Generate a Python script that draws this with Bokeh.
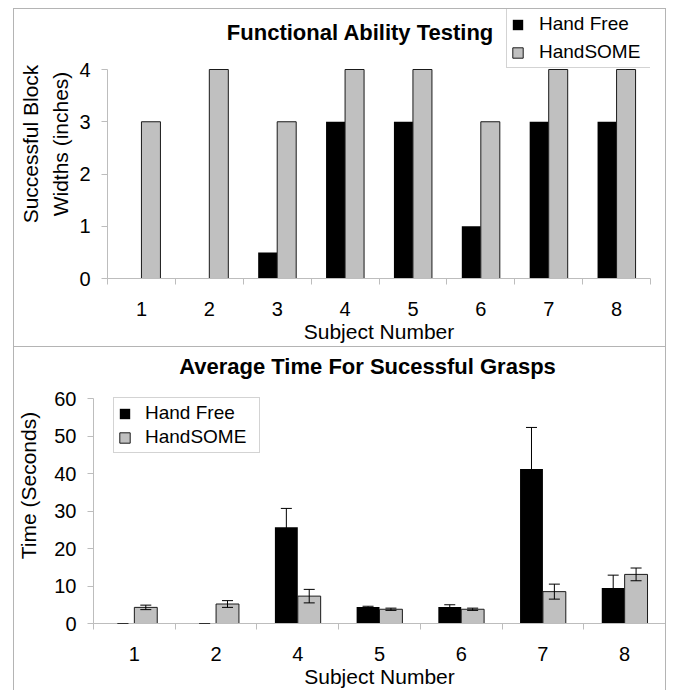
from bokeh.plotting import figure
from bokeh.models import (ColumnDataSource, FactorRange, Range1d, LinearAxis, CategoricalAxis,
                          FixedTicker, Legend, LegendItem, Whisker, TeeHead, Label)
from bokeh.transform import dodge
from bokeh.embed import file_html
from bokeh.resources import INLINE

# ---------------- data ----------------
top_subjects = ["1", "2", "3", "4", "5", "6", "7", "8"]
top_hand_free = [0, 0, 0.5, 3, 3, 1, 3, 3]
top_handsome = [3, 4, 3, 4, 4, 3, 4, 4]
top_yticks = [0, 1, 2, 3, 4]

bot_subjects = ["1", "2", "4", "5", "6", "7", "8"]
bot_hand_free = [0, 0, 25.7, 4.4, 4.4, 41.2, 9.5]
bot_hand_free_err = [0, 0, 5.0, 0.2, 0.6, 11.1, 3.4]
bot_handsome = [4.3, 5.2, 7.3, 3.8, 3.8, 8.5, 13.1]
bot_handsome_err = [0.6, 0.9, 1.8, 0.3, 0.3, 2.0, 1.7]
bot_yticks = [0, 10, 20, 30, 40, 50, 60]

FONT = "Liberation Sans"
AXIS_GRAY = "#bdbdbd"
BORDER_GRAY = "#b4b4b4"
BAR_GRAY = "#c0c0c0"
OUTLINE = "#1a1a1a"


def style_common(p):
    p.outline_line_color = None
    p.xgrid.grid_line_color = None
    p.ygrid.grid_line_color = None
    p.background_fill_color = "white"
    p.border_fill_color = "white"


def add_x_axes(p, n, label_size, label_standoff, axis_label_size, axis_label_standoff):
    # boundary ticks between categories (synthetic categorical coordinates 0..n)
    tick_axis = LinearAxis(ticker=FixedTicker(ticks=list(range(n + 1))),
                           major_tick_out=6, major_tick_in=0,
                           minor_tick_line_color=None,
                           axis_line_color=AXIS_GRAY, major_tick_line_color=AXIS_GRAY,
                           major_label_text_font_size="0px", major_label_text_color=None,
                           major_label_standoff=0)
    p.add_layout(tick_axis, "below")
    cat_axis = CategoricalAxis(axis_line_color=None, major_tick_line_color=None,
                               minor_tick_line_color=None,
                               major_label_standoff=label_standoff,
                               major_label_text_font=FONT,
                               major_label_text_font_size=label_size,
                               major_label_text_color="black",
                               axis_label="Subject Number",
                               axis_label_text_font=FONT,
                               axis_label_text_font_size=axis_label_size,
                               axis_label_text_font_style="normal",
                               axis_label_text_color="black",
                               axis_label_standoff=axis_label_standoff)
    p.add_layout(cat_axis, "below")


def style_y(p, ticks, label, tick_size, label_size, label_standoff, axis_label_standoff, line_height):
    ax = p.yaxis[0]
    ax.ticker = FixedTicker(ticks=ticks)
    ax.bounds = (ticks[0], ticks[-1])
    ax.axis_line_color = AXIS_GRAY
    ax.major_tick_line_color = AXIS_GRAY
    ax.major_tick_out = 6
    ax.major_tick_in = 0
    ax.minor_tick_line_color = None
    ax.major_label_text_font = FONT
    ax.major_label_text_font_size = tick_size
    ax.major_label_text_color = "black"
    ax.major_label_standoff = label_standoff
    ax.axis_label = label
    ax.axis_label_text_font = FONT
    ax.axis_label_text_font_size = label_size
    ax.axis_label_text_font_style = "normal"
    ax.axis_label_text_color = "black"
    ax.axis_label_standoff = axis_label_standoff
    ax.axis_label_text_line_height = line_height


def make_legend(p, r1, r2, loc, font_size, spacing, standoff, label_width):
    legend = Legend(items=[LegendItem(label="Hand Free", renderers=[r1]),
                           LegendItem(label="HandSOME", renderers=[r2])],
                    location=loc)
    legend.label_text_font = FONT
    legend.label_text_font_size = font_size
    legend.label_text_color = "black"
    legend.glyph_width = 13
    legend.glyph_height = 13
    legend.label_standoff = standoff
    legend.label_width = label_width
    legend.spacing = spacing
    legend.padding = 4
    legend.margin = 0
    legend.border_line_color = "#a8a8a8"
    legend.border_line_width = 1
    legend.background_fill_color = "white"
    legend.background_fill_alpha = 1
    p.add_layout(legend)


def add_title(p, text, sx, sy):
    p.add_layout(Label(x=sx, y=sy, x_units="screen", y_units="screen",
                       text=text, text_font=FONT, text_font_style="bold",
                       text_font_size="22px", text_align="center", text_baseline="middle",
                       text_color="black"))


# ---------------- top panel ----------------
TOP_FRAME_H = 269          # frame height in px (legend + title live inside the frame)
TOP_HEAD = 60              # px between frame top and the top tick
top_ymax = top_yticks[-1] * TOP_FRAME_H / (TOP_FRAME_H - TOP_HEAD)

src1 = ColumnDataSource(dict(subject=top_subjects, hf=top_hand_free, hs=top_handsome))
p1 = figure(width=653, height=339,
            x_range=FactorRange(factors=top_subjects, range_padding=0),
            y_range=Range1d(0, top_ymax),
            x_axis_location=None, title_location=None,
            output_backend="svg", toolbar_location=None,
            min_border_left=93, min_border_right=17, min_border_top=0, min_border_bottom=70)
style_common(p1)
add_x_axes(p1, len(top_subjects), "20px", 11, "21px", 1)
style_y(p1, top_yticks, "Successful Block\nWidths (inches)", "20px", "21px", 11, 4, 1.3)

r1 = p1.vbar(x=dodge("subject", -0.14, range=p1.x_range), top="hf", width=0.28,
             source=src1, fill_color="black", line_color=None)
r2 = p1.vbar(x=dodge("subject", 0.14, range=p1.x_range), top="hs", width=0.28,
             source=src1, fill_color=BAR_GRAY, line_color=OUTLINE, line_width=1)
add_title(p1, "Functional Ability Testing", 253, 246)
make_legend(p1, r1, r2, (399, 210), "19px", 6, 15, 108)
p1.margin = (8, 0, 0, 13)
p1.styles = {"border-left": f"1px solid {BORDER_GRAY}", "border-right": f"1px solid {BORDER_GRAY}",
             "border-top": f"1px solid {BORDER_GRAY}", "border-bottom": f"1px solid {BORDER_GRAY}"}

# ---------------- bottom panel ----------------
BOT_FRAME_H = 281
BOT_HEAD = 52
bot_ymax = bot_yticks[-1] * BOT_FRAME_H / (BOT_FRAME_H - BOT_HEAD)

src2 = ColumnDataSource(dict(
    subject=bot_subjects,
    hf=bot_hand_free, hs=bot_handsome,
    hf_up=[v + e for v, e in zip(bot_hand_free, bot_hand_free_err)],
    hf_lo=[v - e for v, e in zip(bot_hand_free, bot_hand_free_err)],
    hs_up=[v + e for v, e in zip(bot_handsome, bot_handsome_err)],
    hs_lo=[v - e for v, e in zip(bot_handsome, bot_handsome_err)],
))
p2 = figure(width=653, height=343,
            x_range=FactorRange(factors=bot_subjects, range_padding=0),
            y_range=Range1d(0, bot_ymax),
            x_axis_location=None, title_location=None,
            output_backend="svg", toolbar_location=None,
            min_border_left=77, min_border_right=2, min_border_top=0, min_border_bottom=62)
style_common(p2)
add_x_axes(p2, len(bot_subjects), "20px", 11, "21px", 1)
style_y(p2, bot_yticks, "Time (Seconds)", "20px", "21px", 11, 11, 1.2)

q1 = p2.vbar(x=dodge("subject", -0.14, range=p2.x_range), top="hf", width=0.28,
             source=src2, fill_color="black", line_color=None)
q2 = p2.vbar(x=dodge("subject", 0.14, range=p2.x_range), top="hs", width=0.28,
             source=src2, fill_color=BAR_GRAY, line_color=OUTLINE, line_width=1)
for col_base, up, lo in [(-0.14, "hf_up", "hf_lo"), (0.14, "hs_up", "hs_lo")]:
    w = Whisker(source=src2, base=dodge("subject", col_base, range=p2.x_range),
                upper=up, lower=lo, dimension="height",
                line_color="black", line_width=1, level="overlay",
                upper_head=TeeHead(size=11, line_color="black", line_width=1),
                lower_head=TeeHead(size=11, line_color="black", line_width=1))
    p2.add_layout(w)
add_title(p2, "Average Time For Sucessful Grasps", 274, 257.5)
make_legend(p2, q1, q2, (20, 170), "19px", 2, 14, 110)
p2.margin = (0, 0, 0, 13)
p2.styles = {"border-left": f"1px solid {BORDER_GRAY}", "border-right": f"1px solid {BORDER_GRAY}"}

with open("out.html", "w") as f:
    f.write(file_html([p1, p2], INLINE))
